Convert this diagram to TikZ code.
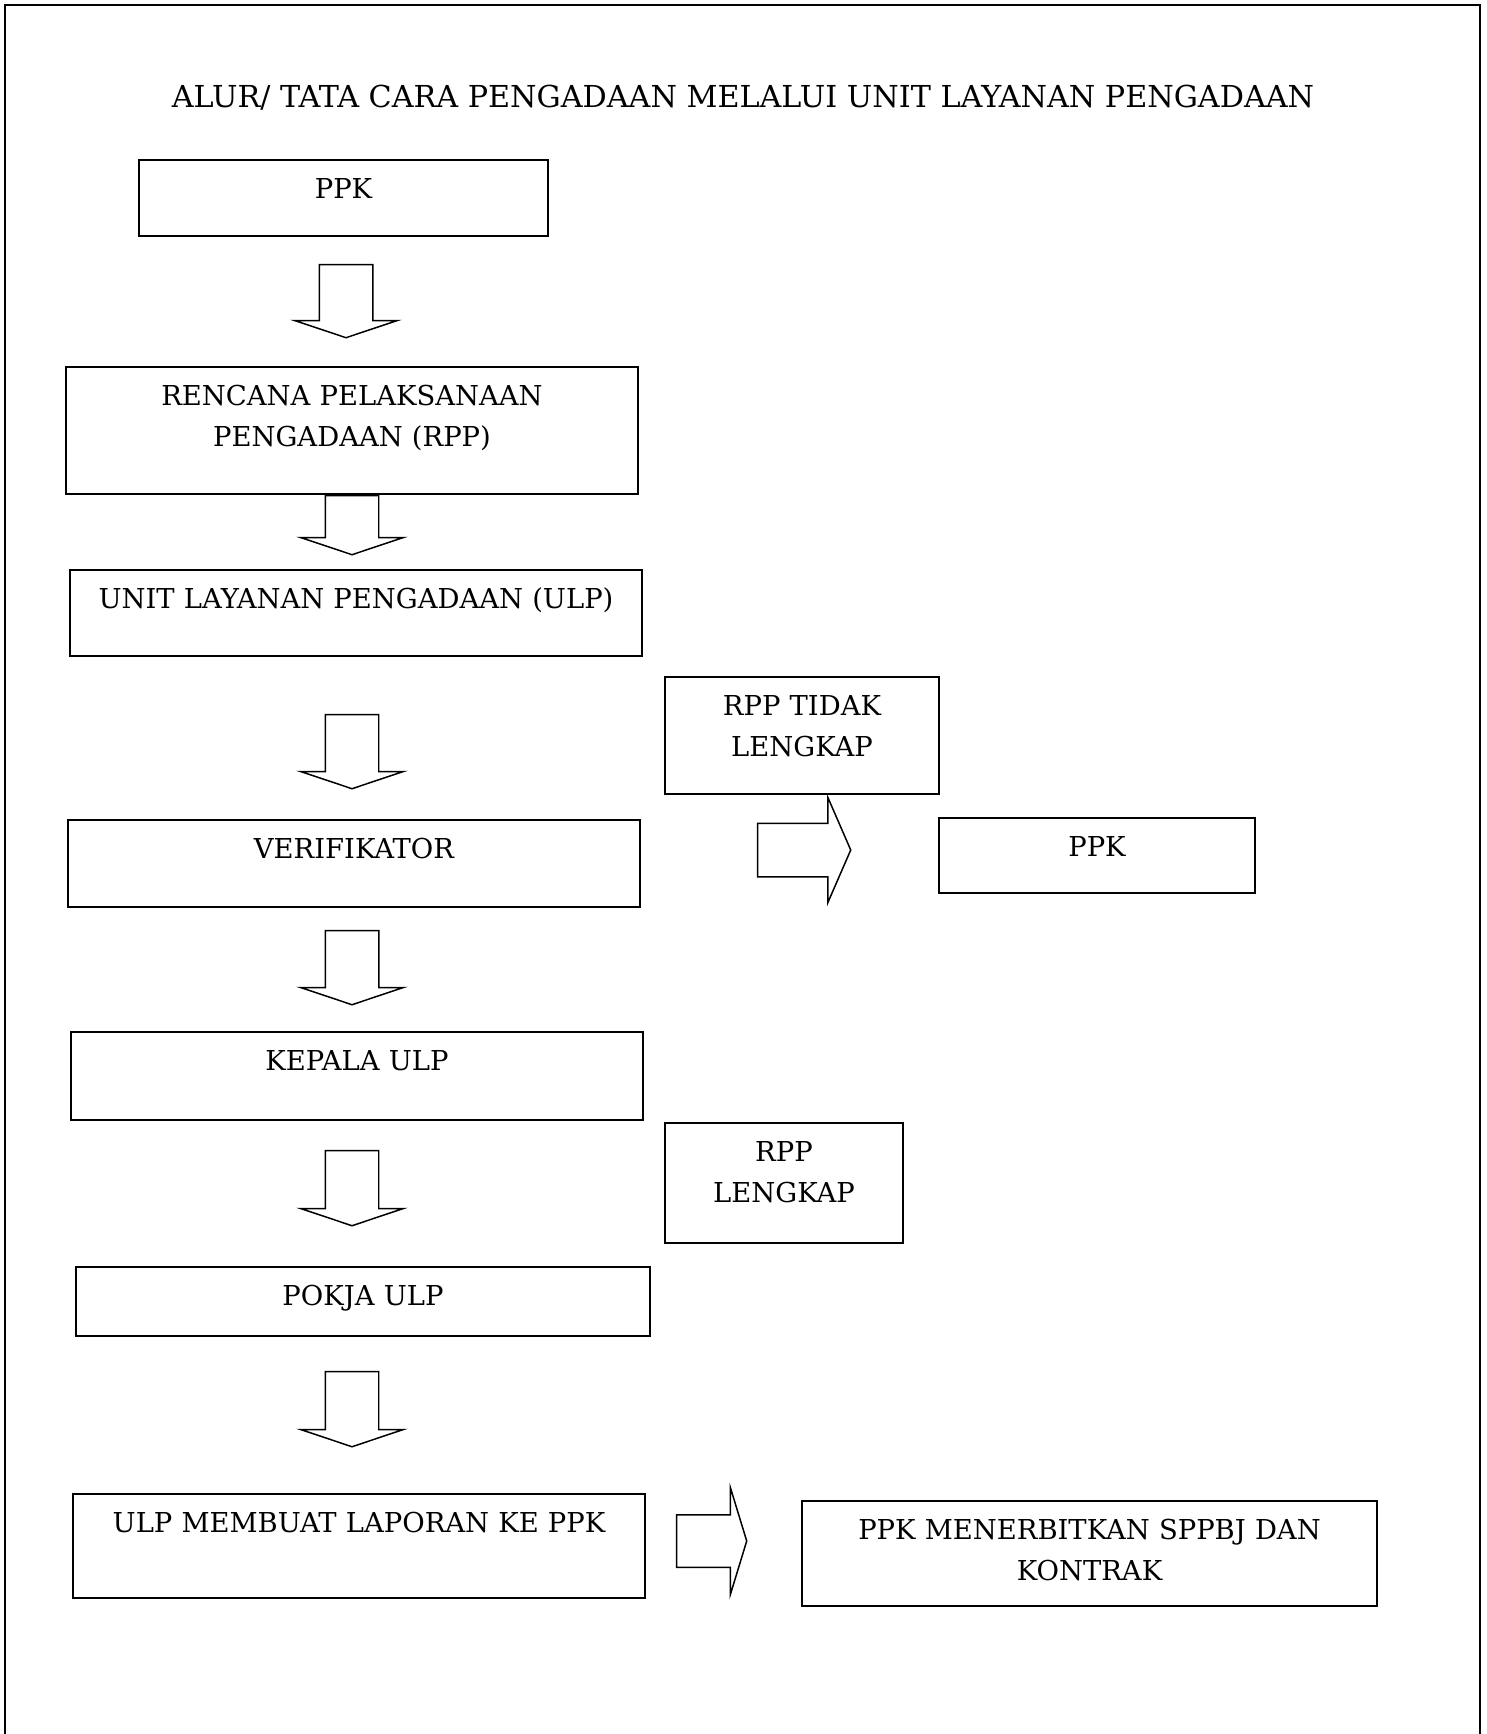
\documentclass[tikz,border=0pt]{standalone}
\usepackage{fontspec}
\setmainfont{DejaVu Serif}
\usepackage{tikz}
\usetikzlibrary{shapes.geometric, shapes.arrows}
\newcommand{\teksbox}{\fontsize{15.6}{23.3}\selectfont}
\newcommand{\tekjudul}{\fontsize{17.2}{23.3}\selectfont}
\tikzstyle{process} = [rectangle, draw=black, line width=1.1pt, inner sep=0pt, text height=0.77cm, text centered, font=\teksbox]
\tikzstyle{downarrow} = [single arrow, draw=black, line width=0.85pt, shape border rotate=270, inner sep=0pt, single arrow head extend=0.49cm, single arrow tip angle=143, anchor=tail]
\tikzstyle{rightarrow} = [single arrow, draw=black, line width=0.85pt, inner sep=0pt, anchor=tail]
\begin{document}
\begin{tikzpicture}[node distance=2cm]
\useasboundingbox (0,0) rectangle (29.72,-34.68);
\draw [line width=1.6pt] (0.1,-34.68) -- (0.1,-0.1) -- (29.6,-0.1) -- (29.6,-34.68);

\node (judul) [anchor=base, font=\tekjudul] at (14.86,-2.16) {ALUR/ TATA CARA PENGADAAN MELALUI UNIT LAYANAN PENGADAAN};

\node (ppk) [process, text width=8.18cm, text depth=0.75cm] at (6.87,-3.96) {PPK};
\node (rpp) [process, below of=ppk, xshift=.17cm, yshift=-2.65cm, text width=11.44cm, text depth=1.77cm] {RENCANA PELAKSANAAN\\PENGADAAN (RPP)};
\node (ulp) [process, below of=rpp, xshift=.08cm, yshift=-1.65cm, text width=11.44cm, text depth=0.95cm] {UNIT LAYANAN PENGADAAN (ULP)};
\node (ver) [process, below of=ulp, xshift=-.04cm, yshift=-3.01cm, text width=11.44cm, text depth=0.97cm] {VERIFIKATOR};
\node (kepala) [process, below of=ver, xshift=.06cm, yshift=-2.25cm, text width=11.44cm, text depth=0.99cm] {KEPALA ULP};
\node (pokja) [process, below of=kepala, xshift=.12cm, yshift=-2.51cm, text width=11.48cm, text depth=0.61cm] {POKJA ULP};
\node (lapor) [process, below of=pokja, xshift=-.08cm, yshift=-2.89cm, text width=11.44cm, text depth=1.31cm] {ULP MEMBUAT LAPORAN KE PPK};

\node (tidak) [process, right of=ulp, xshift=6.92cm, yshift=-2.45cm, text width=5.48cm, text depth=1.57cm] {RPP TIDAK\\LENGKAP};
\node (ppkb) [process, right of=ver, xshift=12.86cm, yshift=.16cm, text width=6.32cm, text depth=0.73cm] {PPK};
\node (lengkap) [process, right of=kepala, xshift=6.54cm, yshift=-2.14cm, text width=4.76cm, text depth=1.63cm] {RPP\\LENGKAP};
\node (sppbj) [process, right of=lapor, xshift=12.61cm, yshift=-.15cm, text width=11.5cm, text depth=1.33cm] {PPK MENERBITKAN SPPBJ DAN\\KONTRAK};

\node (p1) [downarrow, minimum height=1.46cm] at ([xshift=.05cm,yshift=-.54cm]ppk.south) {\rule{1.04cm}{0pt}};
\node (p2) [downarrow, minimum height=1.18cm] at (rpp.south) {\rule{1.04cm}{0pt}};
\node (p3) [downarrow, minimum height=1.48cm] at ([xshift=-.08cm,yshift=-1.14cm]ulp.south) {\rule{1.04cm}{0pt}};
\node (p4) [downarrow, minimum height=1.48cm] at ([xshift=-.04cm,yshift=-.44cm]ver.south) {\rule{1.04cm}{0pt}};
\node (p5) [downarrow, minimum height=1.50cm] at ([xshift=-.10cm,yshift=-.58cm]kepala.south) {\rule{1.04cm}{0pt}};
\node (p6) [downarrow, minimum height=1.50cm] at ([xshift=-.22cm,yshift=-.68cm]pokja.south) {\rule{1.04cm}{0pt}};

\node (pa) [rightarrow, minimum height=1.86cm, single arrow head extend=.52cm, single arrow tip angle=133] at ([xshift=2.32cm,yshift=.27cm]ver.east) {\rule{0pt}{1.04cm}};
\node (pb) [rightarrow, minimum height=1.40cm, single arrow head extend=.54cm, single arrow tip angle=146] at ([xshift=.60cm,yshift=.10cm]lapor.east) {\rule{0pt}{1.02cm}};

\end{tikzpicture}
\end{document}
